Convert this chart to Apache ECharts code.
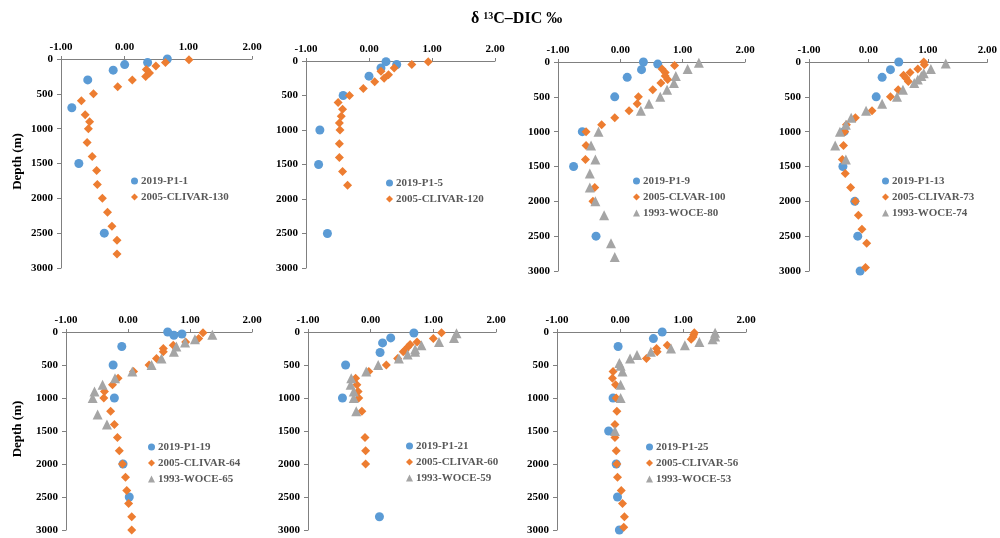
<!DOCTYPE html>
<html lang="en">
<head>
    <meta charset="UTF-8">
    <title>δ13C-DIC profiles</title>
    <script type="text/javascript" src="https://cdn.jsdelivr.net/npm/echarts@6/dist/echarts.min.js"></script>
    <style>
        html, body { margin: 0; padding: 0; background: #fff; }
        #chart { width: 1000px; height: 538px; }
    </style>
</head>
<body>
<div id="chart"></div>
<script>
    // data: [δ13C value, depth (m)]
    var p1_2019 = [[0.67, 0], [0.36, 50], [0.00, 80], [-0.18, 160], [-0.58, 300], [-0.83, 700], [-0.72, 1500], [-0.32, 2500]];
    var p1_2005 = [[1.01, 10], [0.64, 50], [0.49, 100], [0.34, 150], [0.39, 200], [0.33, 250], [0.12, 300], [-0.11, 400],
        [-0.49, 500], [-0.68, 600], [-0.62, 800], [-0.55, 900], [-0.57, 1000], [-0.59, 1200], [-0.51, 1400], [-0.44, 1600],
        [-0.43, 1800], [-0.35, 2000], [-0.27, 2200], [-0.20, 2400], [-0.12, 2600], [-0.12, 2800]];

    var p5_2019 = [[0.27, 10], [0.44, 50], [0.19, 100], [0.00, 220], [-0.41, 500], [-0.78, 1000], [-0.80, 1500], [-0.66, 2500]];
    var p5_2005 = [[0.94, 10], [0.68, 50], [0.40, 100], [0.19, 150], [0.31, 200], [0.24, 250], [0.09, 300], [-0.09, 400],
        [-0.31, 500], [-0.49, 600], [-0.42, 700], [-0.44, 800], [-0.47, 900], [-0.46, 1000], [-0.47, 1200], [-0.47, 1400],
        [-0.42, 1600], [-0.34, 1800]];

    var p9_2019 = [[0.37, 0], [0.60, 30], [0.34, 110], [0.11, 220], [-0.09, 500], [-0.61, 1000], [-0.75, 1500], [-0.39, 2500]];
    var p9_2005 = [[0.87, 50], [0.67, 100], [0.72, 150], [0.72, 200], [0.76, 250], [0.65, 300], [0.52, 400], [0.29, 500],
        [0.27, 600], [0.14, 700], [-0.09, 800], [-0.30, 900], [-0.55, 1000], [-0.55, 1200], [-0.56, 1400], [-0.41, 1800],
        [-0.44, 2000]];
    var p9_1993 = [[1.26, 10], [1.08, 100], [0.89, 200], [0.86, 300], [0.75, 400], [0.64, 500], [0.46, 600], [0.33, 700],
        [-0.35, 1000], [-0.47, 1200], [-0.40, 1400], [-0.49, 1600], [-0.49, 1800], [-0.40, 2000], [-0.26, 2200],
        [-0.15, 2600], [-0.09, 2800]];

    var p13_2019 = [[0.51, 0], [0.37, 110], [0.23, 220], [0.13, 500], [-0.41, 1000], [-0.43, 1500], [-0.23, 2000], [-0.18, 2500], [-0.14, 3000]];
    var p13_2005 = [[0.93, 0], [0.94, 40], [0.83, 100], [0.70, 150], [0.59, 190], [0.63, 230], [0.67, 280], [0.50, 400],
        [0.37, 500], [0.06, 700], [-0.22, 800], [-0.37, 900], [-0.40, 1000], [-0.42, 1200], [-0.44, 1400], [-0.39, 1600],
        [-0.30, 1800], [-0.22, 2000], [-0.17, 2200], [-0.11, 2400], [-0.03, 2600], [-0.05, 2950]];
    var p13_1993 = [[1.30, 20], [1.05, 100], [0.93, 160], [0.89, 200], [0.83, 250], [0.77, 300], [0.58, 400], [0.48, 500],
        [0.23, 600], [-0.04, 700], [-0.29, 800], [-0.38, 900], [-0.48, 1000], [-0.56, 1200], [-0.38, 1400]];

    var p19_2019 = [[0.64, 0], [0.74, 50], [0.87, 30], [-0.10, 220], [-0.24, 500], [-0.22, 1000], [-0.08, 2000], [0.02, 2500]];
    var p19_2005 = [[1.21, 10], [1.14, 100], [0.93, 150], [0.73, 200], [0.57, 250], [0.57, 300], [0.46, 400], [0.34, 500],
        [0.09, 600], [-0.16, 700], [-0.25, 800], [-0.38, 900], [-0.39, 1000], [-0.28, 1200], [-0.22, 1400], [-0.17, 1600],
        [-0.14, 1800], [-0.09, 2000], [-0.04, 2200], [-0.02, 2400], [0.01, 2600], [0.06, 2800], [0.06, 3000]];
    var p19_1993 = [[1.36, 40], [1.08, 110], [0.92, 160], [0.78, 220], [0.74, 300], [0.54, 400], [0.38, 500], [0.07, 600],
        [-0.21, 700], [-0.41, 800], [-0.54, 900], [-0.57, 1000], [-0.49, 1250], [-0.34, 1400]];

    var p21_2019 = [[0.69, 15], [0.32, 90], [0.19, 165], [0.15, 310], [-0.40, 500], [-0.45, 1000], [0.14, 2800]];
    var p21_2005 = [[1.13, 10], [1.00, 100], [0.74, 150], [0.63, 190], [0.59, 230], [0.55, 275], [0.52, 300], [0.43, 400],
        [0.25, 500], [-0.03, 600], [-0.24, 700], [-0.22, 800], [-0.20, 900], [-0.19, 1000], [-0.14, 1200], [-0.09, 1600],
        [-0.08, 1800], [-0.08, 2000]];
    var p21_1993 = [[1.37, 20], [1.33, 90], [1.09, 150], [0.81, 200], [0.71, 260], [0.71, 300], [0.59, 340], [0.45, 400],
        [0.12, 500], [-0.07, 600], [-0.31, 700], [-0.32, 800], [-0.27, 900], [-0.27, 1000], [-0.23, 1200]];

    var p25_2019 = [[0.67, 0], [0.53, 100], [-0.03, 220], [-0.11, 1000], [-0.18, 1500], [-0.06, 2000], [-0.04, 2500], [-0.01, 3000]];
    var p25_2005 = [[1.18, 10], [1.17, 40], [1.16, 75], [1.13, 110], [0.75, 200], [0.58, 250], [0.59, 300], [0.42, 400],
        [-0.11, 600], [-0.12, 700], [-0.07, 800], [-0.06, 1000], [-0.05, 1200], [-0.08, 1400], [-0.08, 1600], [-0.06, 1800],
        [-0.05, 2000], [-0.04, 2200], [0.02, 2400], [0.04, 2600], [0.07, 2800], [0.06, 2960]];
    var p25_1993 = [[1.51, 10], [1.51, 70], [1.47, 110], [1.26, 150], [1.03, 200], [0.81, 250], [0.49, 300], [0.27, 350],
        [0.16, 400], [-0.01, 470], [0.01, 510], [0.04, 600], [0.01, 800], [0.01, 1000], [-0.08, 1500]];

    var xTicks = [-1, 0, 1, 2];
    var depthTicks = [0, 500, 1000, 1500, 2000, 2500, 3000];

    var BLUE = '#5B9BD5', ORANGE = '#ED7D31', GRAY = '#A5A5A5';
    var FONT = '"Liberation Serif", "Times New Roman", serif';

    // one panel = one grid
    var panels = [
        {grid: [61, 59, 191, 209], legend: [126, 170], depthLabel: true,
            series: [['2019-P1-1', p1_2019, 'b'], ['2005-CLIVAR-130', p1_2005, 'o']]},
        {grid: [306, 61, 189, 207], legend: [381, 172],
            series: [['2019-P1-5', p5_2019, 'b'], ['2005-CLIVAR-120', p5_2005, 'o']]},
        {grid: [558, 62, 187, 209], legend: [628, 170],
            series: [['2019-P1-9', p9_2019, 'b'], ['2005-CLVAR-100', p9_2005, 'o'], ['1993-WOCE-80', p9_1993, 'g']]},
        {grid: [809, 62, 183, 209], legend: [877, 170],
            series: [['2019-P1-13', p13_2019, 'b'], ['2005-CLIVAR-73', p13_2005, 'o'], ['1993-WOCE-74', p13_1993, 'g']]},
        {grid: [66, 332, 186, 198], legend: [143, 436], depthLabel: true,
            series: [['2019-P1-19', p19_2019, 'b'], ['2005-CLIVAR-64', p19_2005, 'o'], ['1993-WOCE-65', p19_1993, 'g']]},
        {grid: [308, 332, 188, 198], legend: [401, 435],
            series: [['2019-P1-21', p21_2019, 'b'], ['2005-CLIVAR-60', p21_2005, 'o'], ['1993-WOCE-59', p21_1993, 'g']]},
        {grid: [557, 332, 189, 198], legend: [641, 436],
            series: [['2019-P1-25', p25_2019, 'b'], ['2005-CLIVAR-56', p25_2005, 'o'], ['1993-WOCE-53', p25_1993, 'g']]}
    ];

    var styleOf = {
        b: {symbol: 'circle', symbolSize: 9, color: BLUE},
        o: {symbol: 'diamond', symbolSize: 9, color: ORANGE},
        g: {symbol: 'triangle', symbolSize: 10, color: GRAY}
    };

    var grids = [], xAxes = [], yAxes = [], legends = [], series = [], graphics = [];
    var labelStyle = {fontFamily: FONT, fontWeight: 'bold', fontSize: 11, color: '#000'};
    var axisLine = {show: true, onZero: false, lineStyle: {color: '#808080', width: 1}};

    panels.forEach(function (p, i) {
        grids.push({left: p.grid[0], top: p.grid[1], width: p.grid[2], height: p.grid[3]});
        xAxes.push({
            gridIndex: i, type: 'value', position: 'top',
            min: xTicks[0], max: xTicks[xTicks.length - 1], interval: 1,
            axisLine: axisLine,
            axisTick: {show: true, length: 3, lineStyle: {color: '#808080'}},
            splitLine: {show: false},
            axisLabel: Object.assign({margin: 6, formatter: function (v) { return v.toFixed(2); }}, labelStyle)
        });
        yAxes.push({
            gridIndex: i, type: 'value', inverse: true,
            min: depthTicks[0], max: depthTicks[depthTicks.length - 1], interval: 500,
            axisLine: axisLine,
            axisTick: {show: true, length: 4, lineStyle: {color: '#808080'}},
            splitLine: {show: false},
            axisLabel: Object.assign({margin: 8, formatter: function (v) { return String(v); }}, labelStyle)
        });
        legends.push({
            left: p.legend[0], top: p.legend[1], orient: 'vertical',
            itemWidth: 7, itemHeight: 7, itemGap: 4,
            data: p.series.map(function (s) { return s[0]; }),
            textStyle: {fontFamily: FONT, fontWeight: 'bold', fontSize: 11, color: '#595959', lineHeight: 12, padding: [0, 0, 0, -2]}
        });
        p.series.forEach(function (s) {
            var st = styleOf[s[2]];
            series.push({
                name: s[0], type: 'scatter', xAxisIndex: i, yAxisIndex: i,
                symbol: st.symbol, symbolSize: st.symbolSize,
                itemStyle: {color: st.color, opacity: 1},
                data: s[1]
            });
        });
        if (p.depthLabel) {
            graphics.push({
                type: 'text', x: 18, y: p.grid[1] + p.grid[3] / 2 - 2, rotation: Math.PI / 2,
                style: {text: 'Depth (m)', font: 'bold 13px ' + FONT, fill: '#000', textAlign: 'center', textVerticalAlign: 'middle'}
            });
        }
    });

    var myChart = echarts.init(document.getElementById('chart'));
    myChart.setOption({
        animation: false,
        backgroundColor: '#fff',
        title: {
            text: '{a|δ }{s|13}{a|C–DIC ‰}',
            left: 466, top: 6,
            textStyle: {
                rich: {
                    a: {fontFamily: FONT, fontWeight: 'bold', fontSize: 16, color: '#000', verticalAlign: 'bottom'},
                    s: {fontFamily: FONT, fontWeight: 'bold', fontSize: 10, color: '#000', verticalAlign: 'top', padding: [0, 0, 6, 0]}
                }
            }
        },
        grid: grids,
        xAxis: xAxes,
        yAxis: yAxes,
        legend: legends,
        graphic: graphics,
        series: series
    });
</script>
</body>
</html>
